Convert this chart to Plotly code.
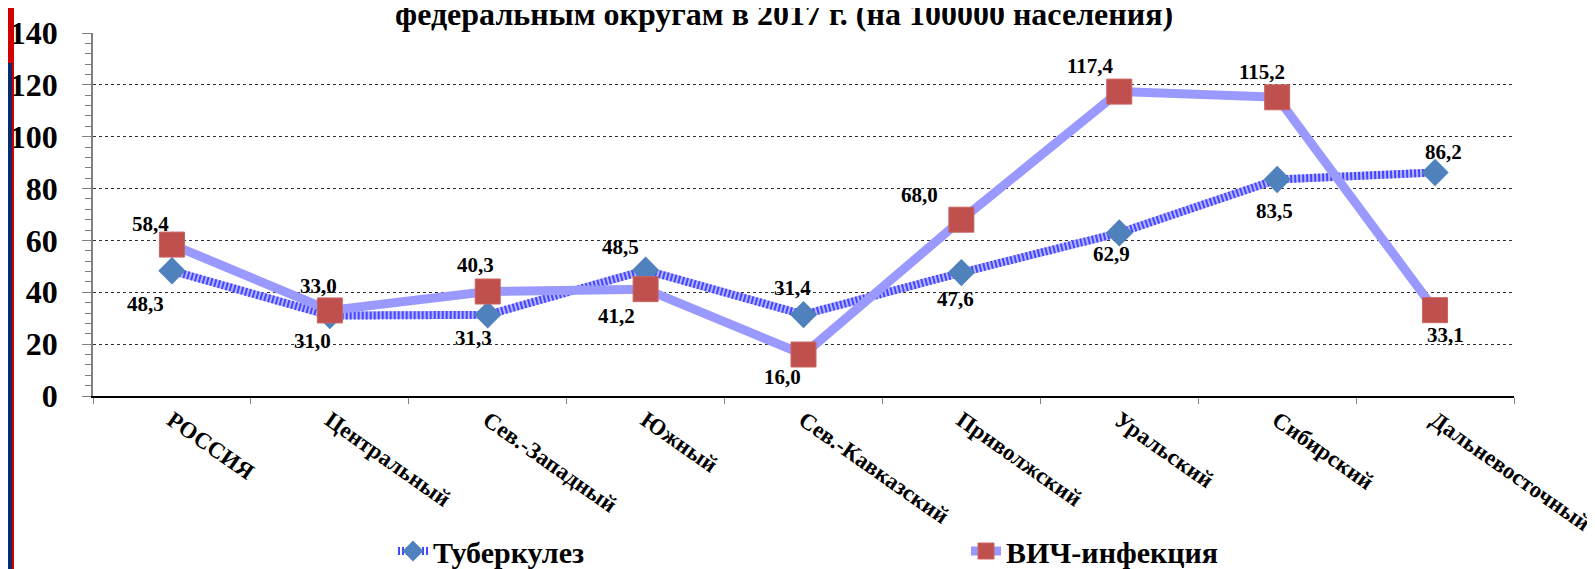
import plotly.graph_objects as go

# Заболеваемость по федеральным округам, 2017 г. (на 100000 населения)
districts = ["РОССИЯ", "Центральный", "Сев.-Западный", "Южный", "Сев.-Кавказский",
             "Приволжский", "Уральский", "Сибирский", "Дальневосточный"]
tb = [48.3, 31.0, 31.3, 48.5, 31.4, 47.6, 62.9, 83.5, 86.2]
hiv = [58.4, 33.0, 40.3, 41.2, 16.0, 68.0, 117.4, 115.2, 33.1]
y_ticks = [0, 20, 40, 60, 80, 100, 120, 140]

# label offsets in px (dx, dy down) around each marker
tb_off = [(-26, 33), (-17, 25), (-14, 23), (-25, -23), (-11, -27),
          (-6, 26), (-8, 21), (-3, 31), (8, -21)]
hiv_off = [(-21, -21), (-11, -24), (-12, -27), (-29, 27), (-21, 22),
           (-42, -25), (-29, -26), (-15, -25), (10, 25)]

SERIF = "Liberation Serif, Times New Roman, serif"
W, H = 1595, 569
L, R, T, B = 85, 89, 25, 181
PW, PH = W - L - R, H - T - B


def px_x(p):
    return (p - L) / PW


def px_y(p):
    return (H - B - p) / PH


fig = go.Figure()

# textured tuberculosis line: light base + dashed blue overlay
fig.add_scatter(x=districts, y=tb, mode="lines", line=dict(color="#b4b4ff", width=8),
                showlegend=False, hoverinfo="skip")
fig.add_scatter(x=districts, y=tb, mode="lines+markers", name="Туберкулез",
                line=dict(color="#4646ff", width=8, dash="2px,2px"),
                marker=dict(symbol="diamond", size=21, color="#4f81bd"))
fig.add_scatter(x=districts, y=hiv, mode="lines+markers", name="ВИЧ-инфекция",
                line=dict(color="#9999ff", width=9),
                marker=dict(symbol="square", size=25, color="#c0504d",
                            line=dict(color="#c96461", width=1)))


def fmt(v):
    return f"{v:.1f}".replace(".", ",")


for vals, offs in ((tb, tb_off), (hiv, hiv_off)):
    for d, v, (dx, dy) in zip(districts, vals, offs):
        fig.add_annotation(x=d, y=v, text=f"<b>{fmt(v)}</b>", showarrow=False,
                           xshift=dx, yshift=-dy,
                           font=dict(family=SERIF, size=21, color="black"))

fig.add_annotation(
    xref="paper", yref="paper", x=px_x(776), y=px_y(6), yanchor="middle",
    text="<b>федеральным округам в 2017 г. (на 100000 населения)</b>", showarrow=False,
    font=dict(family=SERIF, size=32, color="black"),
)

# slide edge stripes
fig.add_shape(type="rect", xref="paper", yref="paper", x0=px_x(0), x1=px_x(6),
              y0=px_y(55), y1=px_y(0), fillcolor="#d00000", line_width=0, layer="above")
fig.add_shape(type="rect", xref="paper", yref="paper", x0=px_x(0), x1=px_x(4),
              y0=px_y(H), y1=px_y(55), fillcolor="#0c2a6b", line_width=0, layer="above")
fig.add_shape(type="rect", xref="paper", yref="paper", x0=px_x(4), x1=px_x(6),
              y0=px_y(H), y1=px_y(55), fillcolor="#d00000", line_width=0, layer="above")

fig.update_layout(
    width=W, height=H, paper_bgcolor="white", plot_bgcolor="white",
    margin=dict(l=L, r=R, t=T, b=B, autoexpand=False),
    font=dict(family=SERIF, color="black"),
    showlegend=True,
    legend=dict(orientation="h", xref="container", yref="container",
                x=385 / W, y=1 - 543 / H, xanchor="left", yanchor="middle",
                entrywidth=528, font=dict(family=SERIF, size=30, color="black", weight="bold"),
                bgcolor="rgba(0,0,0,0)"),
    xaxis=dict(
        type="category", range=[-0.5, 8.5], showgrid=False, zeroline=False, automargin=False,
        showline=True, linecolor="black", linewidth=1.5,
        ticks="outside", tickson="boundaries", ticklen=6, tickcolor="#808080",
        tickangle=35, tickfont=dict(family=SERIF, size=23, color="black", weight="bold"),
    ),
    yaxis=dict(
        range=[0, 140], tickvals=y_ticks, showgrid=True, gridcolor="#303030",
        griddash="dot", gridwidth=1, zeroline=False, automargin=False,
        showline=True, linecolor="#808080", linewidth=1.5,
        ticks="outside", ticklen=9, tickcolor="#808080", ticklabelstandoff=18,
        minor=dict(dtick=4, ticks="outside", ticklen=6, tickcolor="#808080", showgrid=False),
        tickfont=dict(family=SERIF, size=32, color="black", weight="bold"),
    ),
)

fig.write_html("out.html")
